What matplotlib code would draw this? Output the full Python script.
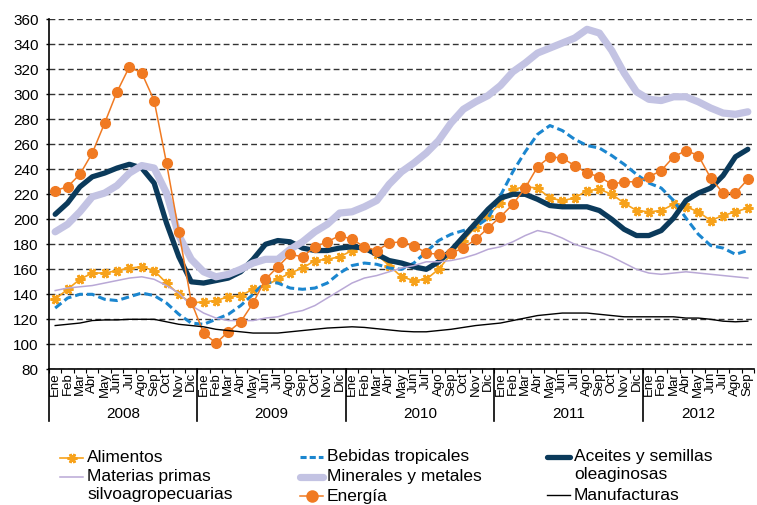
import numpy as np
import matplotlib
matplotlib.use('Agg')
import matplotlib.pyplot as plt
from matplotlib.lines import Line2D
import matplotlib.transforms as mtransforms

plt.rcParams['font.family'] = ['Liberation Sans', 'DejaVu Sans']

# Meses y años (Ene 2008 - Sep 2012)
meses = ['Ene', 'Feb', 'Mar', 'Abr', 'May', 'Jun', 'Jul', 'Ago', 'Sep', 'Oct', 'Nov', 'Dic']
anios = ['2008', '2009', '2010', '2011', '2012']
meses_por_anio = [12, 12, 12, 12, 9]

alimentos = [136, 144, 152, 157, 157, 159, 161, 162, 159, 149, 140, 133,
             134, 135, 138, 139, 144, 147, 152, 157, 161, 167, 168, 170,
             175, 178, 172, 163, 154, 151, 152, 160, 172, 183, 194, 203,
             213, 224, 226, 225, 217, 215, 217, 223, 224, 220, 213, 207,
             206, 207, 212, 210, 206, 199, 203, 206, 209]

bebidas = [129, 137, 140, 140, 136, 135, 138, 141, 139, 133, 124, 117,
           116, 120, 124, 131, 140, 150, 149, 145, 144, 145, 149, 157,
           163, 165, 164, 161, 160, 165, 174, 183, 188, 191, 194, 201,
           219, 238, 254, 268, 275, 271, 264, 259, 257, 251, 244, 236,
           229, 225, 215, 201, 188, 179, 177, 172, 175]

aceites = [204, 213, 226, 234, 237, 241, 244, 241, 229, 197, 170, 150,
           149, 151, 153, 158, 168, 180, 183, 182, 177, 175, 175, 177,
           178, 177, 172, 167, 165, 162, 160, 166, 175, 186, 197, 208,
           217, 220, 220, 216, 211, 210, 210, 210, 207, 200, 192, 187,
           187, 191, 201, 215, 221, 225, 235, 250, 256]

materias = [143, 145, 146, 147, 149, 151, 153, 154, 152, 147, 141, 131,
            125, 121, 119, 119, 119, 121, 122, 125, 127, 131, 137, 143,
            149, 153, 155, 158, 161, 163, 166, 166, 167, 169, 172, 176,
            178, 182, 187, 191, 189, 185, 180, 177, 174, 170, 165, 160,
            157, 156, 157, 158, 157, 156, 155, 154, 153]

minerales = [190, 196, 206, 218, 221, 227, 237, 243, 241, 221, 187, 168,
             158, 154, 156, 160, 165, 168, 168, 176, 182, 190, 196, 205,
             206, 210, 215, 228, 238, 245, 253, 263, 277, 288, 294, 299,
             307, 318, 325, 333, 337, 341, 345, 352, 349, 335, 317, 302,
             296, 295, 298, 298, 294, 289, 285, 284, 286]

energia = [223, 226, 236, 253, 277, 302, 322, 317, 295, 245, 190, 134,
           109, 101, 110, 118, 133, 152, 162, 172, 170, 178, 182, 187,
           184, 178, 175, 181, 182, 179, 173, 172, 173, 177, 184, 193,
           202, 212, 225, 242, 250, 249, 243, 237, 234, 228, 230, 230,
           234, 239, 250, 255, 251, 233, 221, 221, 232]

manufacturas = [115, 116, 117, 119, 119.5, 119.5, 120, 120, 120, 118, 116, 115,
                114, 112, 111, 110, 109, 109, 109, 110, 111, 112, 113, 113.5,
                114, 113.5, 112.5, 111.5, 110.5, 110, 110, 111, 112, 113.5, 115, 116,
                117, 119, 121, 123, 124, 125, 125, 125, 124, 123, 122, 122,
                122, 122, 122, 121, 121, 120, 118.5, 118, 118.5]

c_alim = '#F7A21B'
c_beb = '#1B86CF'
c_acei = '#0B3A5B'
c_mat = '#B9A8D6'
c_min = '#C3C3E3'
c_ener = '#F07A22'
c_manu = '#000000'

W, H = 757, 505
fig = plt.figure(figsize=(W / 100, H / 100), dpi=100)
ax = fig.add_axes([49 / W, 1 - 369.3 / H, 705 / W, 350 / H])

x = np.arange(len(energia))
star = (6, 2, 90)

ax.plot(x, alimentos, color=c_alim, lw=1.2, marker=star, ms=7, mew=2,
        mec=c_alim, zorder=3)
ax.plot(x, bebidas, color=c_beb, lw=2.2, ls=(0, (2.6, 1.3)), zorder=4)
ax.plot(x, aceites, color=c_acei, lw=3.8, solid_joinstyle='round',
        solid_capstyle='round', zorder=5)
ax.plot(x, materias, color=c_mat, lw=1.1, zorder=6)
ax.plot(x, minerales, color=c_min, lw=5.2, solid_joinstyle='round',
        solid_capstyle='round', zorder=7)
ax.plot(x, energia, color=c_ener, lw=1.1, marker='o', ms=7, mec=c_ener,
        zorder=8)
ax.plot(x, manufacturas, color=c_manu, lw=1.0, zorder=9)

ax.set_xlim(-0.5, len(energia) - 0.5)
ax.set_ylim(80, 360)
ax.set_yticks(np.arange(80, 361, 20))
ax.yaxis.grid(True, color='#333333', lw=1.0, ls=(0, (4.2, 2.4)))
ax.set_axisbelow(True)
ax.tick_params(axis='y', labelsize=11, length=2.5, width=1, pad=5)

etiquetas = []
for n in meses_por_anio:
    etiquetas += meses[:n]
ax.set_xticks(x)
ax.set_xticklabels(etiquetas, rotation=90, fontsize=9.5)
ax.tick_params(axis='x', length=0, pad=2)
ax.set_xticks(np.arange(-0.5, len(energia), 1), minor=True)
ax.tick_params(axis='x', which='minor', length=3, width=0.8)

for s in ['top', 'right']:
    ax.spines[s].set_visible(False)
ax.spines['left'].set_linewidth(1.2)
ax.spines['bottom'].set_linewidth(1.2)

# separadores de años y etiquetas
trans = mtransforms.blended_transform_factory(ax.transData, ax.transAxes)
inicio = 0
for anio, n in zip(anios, meses_por_anio):
    if inicio > 0:
        ax.plot([inicio - 0.5, inicio - 0.5], [0, -0.148], color='black',
                lw=1.2, transform=trans, clip_on=False)
    ax.text(inicio + (n - 1) / 2, -0.127, anio, transform=trans,
            ha='center', va='center', fontsize=11)
    inicio += n
ax.plot([-0.5, -0.5], [0, -0.148], color='black', lw=1.2, transform=trans,
        clip_on=False)


# leyenda dibujada a mano (tres columnas)
def fx(px):
    return px / W


def fy(py):
    return 1 - py / H


def entrada(x0, y0, texto, **kw):
    marker = kw.pop('marker', None)
    fig.add_artist(Line2D([fx(x0), fx(x0 + 23)], [fy(y0), fy(y0)], **kw))
    if marker is not None:
        fig.add_artist(Line2D([fx(x0 + 11.5)], [fy(y0)], marker=marker,
                              color=kw['color'], ms=7, mew=2, lw=0))
    for i, linea in enumerate(texto.split('\n')):
        fig.text(fx(x0 + 27), fy(y0 + 17.5 * i), linea, fontsize=12.5,
                 ha='left', va='center')


entrada(60, 458, 'Alimentos', color=c_alim, lw=1.2, marker=star)
entrada(60, 477, 'Materias primas\nsilvoagropecuarias', color=c_mat, lw=1.1)
entrada(300, 457, 'Bebidas tropicales', color=c_beb, lw=2.2,
        ls=(0, (2.0, 1.0)))
entrada(300, 477, 'Minerales y metales', color=c_min, lw=5.2,
        solid_capstyle='round')
entrada(300, 496, 'Energía', color=c_ener, lw=1.1, marker='o')
entrada(547, 457, 'Aceites y semillas\noleaginosas', color=c_acei, lw=3.8,
        solid_capstyle='round')
entrada(547, 495, 'Manufacturas', color=c_manu, lw=1.0)

fig.savefig('out.png', dpi=100)
